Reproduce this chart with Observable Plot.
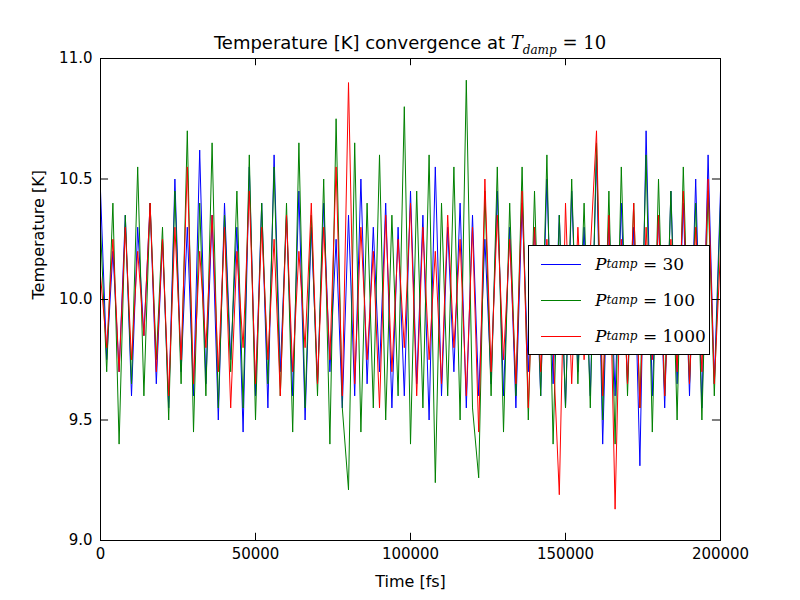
<!DOCTYPE html>
<html>
<head>
<meta charset="utf-8">
<script src="https://cdn.jsdelivr.net/npm/d3@7"></script>
<script src="https://cdn.jsdelivr.net/npm/@observablehq/plot@0.6"></script>
<style>
  body { margin: 0; background: white; font-family: "DejaVu Sans", sans-serif; }
  #wrap { position: relative; width: 800px; height: 600px; }
  #title { position: absolute; left: 100px; width: 620px; top: 32px; text-align: center; font-size: 18px; }
  #chart { position: absolute; left: 0; top: 50px; }
  #legend { position: absolute; left: 528px; top: 245px; width: 180px; height: 108px; border: 1px solid black; background: white; }
  .row { display: flex; align-items: center; height: 36px; font-size: 17px; font-family: "DejaVu Serif", serif; white-space: nowrap; }
  .sw { width: 40px; height: 0; border-top: 1.3px solid; margin: 0 14px 0 12px; flex: none; }
</style>
</head>
<body>
<div id="wrap">
  <div id="title">Temperature [K] convergence at <i style="font-family:'DejaVu Serif',serif">T</i><sub style="font-family:'DejaVu Serif',serif;font-style:italic;font-size:12px">damp</sub><span style="font-family:'DejaVu Serif',serif"> = 10</span></div>
  <div id="chart"></div>
  <div id="legend"></div>
</div>
<script>
const timeStep = 2000;
const blueTemp = [
  10.45,9.75,10.20,9.70,10.35,9.60,10.30,9.85,10.40,9.65,
  10.25,9.55,10.50,9.70,10.30,9.60,10.62,9.65,10.35,9.50,
  10.40,9.75,10.30,9.45,10.55,9.60,10.40,9.55,10.60,9.70,
  10.35,9.60,10.45,9.50,10.30,9.65,10.40,9.70,10.25,9.55,
  10.35,9.60,10.50,9.65,10.30,9.70,10.40,9.55,10.30,9.60,
  10.45,9.65,10.35,9.50,10.55,9.60,10.30,9.70,10.40,9.55,
  10.35,9.60,10.25,9.65,10.45,9.60,10.30,9.55,10.40,9.70,
  10.30,9.60,10.50,9.65,10.35,9.55,10.45,9.70,10.30,9.60,
  10.60,9.40,10.35,9.60,10.40,9.65,10.30,9.31,10.70,9.60,
  10.35,9.55,10.45,9.65,10.40,9.60,10.50,9.55,10.60,9.65,
  10.45
];
const greenTemp = [
  10.30,9.70,10.40,9.40,10.35,9.65,10.55,9.60,10.40,9.75,
  10.30,9.50,10.45,9.65,10.70,9.45,10.40,9.60,10.65,9.55,
  10.35,9.70,10.45,9.55,10.60,9.50,10.40,9.65,10.55,9.60,
  10.40,9.45,10.65,9.55,10.35,9.60,10.50,9.40,10.75,9.55,
  9.21,10.65,9.45,10.40,9.55,10.60,9.50,10.35,9.60,10.80,
  9.40,10.45,9.55,10.60,9.24,10.40,9.60,10.55,9.50,10.91,
  9.55,9.26,10.45,9.60,10.55,9.45,10.40,9.60,10.55,9.50,
  10.45,9.60,10.60,9.40,10.35,9.55,10.50,9.65,10.40,9.55,
  10.65,9.50,10.45,9.40,10.55,9.60,10.40,9.55,10.60,9.45,
  10.50,9.60,10.45,9.50,10.55,9.65,10.40,9.50,10.45,9.60,
  10.40
];
const redTemp = [
  10.10,9.80,10.25,9.70,10.30,9.75,10.20,9.85,10.40,9.70,
  10.25,9.60,10.30,9.75,10.55,9.65,10.20,9.80,10.35,9.70,
  10.30,9.55,10.20,9.80,10.45,9.65,10.30,9.75,10.25,9.60,
  10.35,9.70,10.20,9.80,10.40,9.65,10.30,9.75,10.55,9.60,
  10.90,9.65,10.30,9.75,10.20,9.55,10.35,9.70,10.25,9.80,
  10.40,9.60,10.30,9.75,10.20,9.65,10.35,9.80,10.25,9.60,
  10.30,9.45,10.50,9.70,10.35,9.75,10.25,9.65,10.45,9.55,
  10.30,9.70,10.25,9.80,9.19,10.40,9.65,10.30,9.75,10.20,
  10.70,9.60,10.35,9.13,10.25,9.65,10.40,9.55,10.30,9.75,
  10.35,9.60,10.25,9.70,10.45,9.65,10.30,9.70,10.50,9.65,
  10.20
];
const seriesNames = ["30", "100", "1000"];
const seriesColors = ["blue", "green", "red"];
const seriesValues = [blueTemp, greenTemp, redTemp];
const xTicks = [0, 50000, 100000, 150000, 200000];
const yTicks = [9.0, 9.5, 10.0, 10.5, 11.0];

const toRows = (vals) => vals.map((v, i) => ({t: i * timeStep, T: v}));

const plot = Plot.plot({
  width: 800,
  height: 550,
  marginTop: 8,
  marginBottom: 60,
  marginLeft: 100,
  marginRight: 80,
  style: {fontFamily: "DejaVu Sans", fontSize: "15px", color: "black"},
  x: {domain: [0, 200000], ticks: xTicks, tickFormat: d3.format("d"), label: null},
  y: {domain: [9, 11], ticks: yTicks, tickFormat: d3.format(".1f"), label: null},
  marks: [
    ...seriesValues.map((vals, k) => Plot.line(toRows(vals), {
      x: "t", y: "T", stroke: seriesColors[k], strokeWidth: 1
    })),
    Plot.frame({stroke: "black"}),
    Plot.axisX({ticks: xTicks, tickFormat: d3.format("d"), tickSize: 0, tickPadding: 8, label: null}),
    Plot.axisY({ticks: yTicks, tickFormat: d3.format(".1f"), tickSize: 0, tickPadding: 8, label: null}),
    // inward ticks on all four sides, matplotlib style
    Plot.ruleX(xTicks, {x: d => d, y1: 9, y2: 9.03, stroke: "black"}),
    Plot.ruleX(xTicks, {x: d => d, y1: 10.97, y2: 11, stroke: "black"}),
    Plot.ruleY(yTicks, {y: d => d, x1: 0, x2: 2600, stroke: "black"}),
    Plot.ruleY(yTicks, {y: d => d, x1: 197400, x2: 200000, stroke: "black"}),
    Plot.text(["Time [fs]"], {frameAnchor: "bottom", dy: 46, fontSize: 16}),
    Plot.text(["Temperature [K]"], {frameAnchor: "left", dx: -62, rotate: -90, fontSize: 16})
  ]
});
document.getElementById("chart").appendChild(plot);

const legend = document.getElementById("legend");
seriesNames.forEach((n, k) => {
  const row = document.createElement("div");
  row.className = "row";
  row.innerHTML = `<span class="sw" style="border-color:${seriesColors[k]}"></span><i>P</i><sub style="font-size:12px"><i>tamp</i></sub>&nbsp;=&nbsp;${n}`;
  legend.appendChild(row);
});
</script>
</body>
</html>
